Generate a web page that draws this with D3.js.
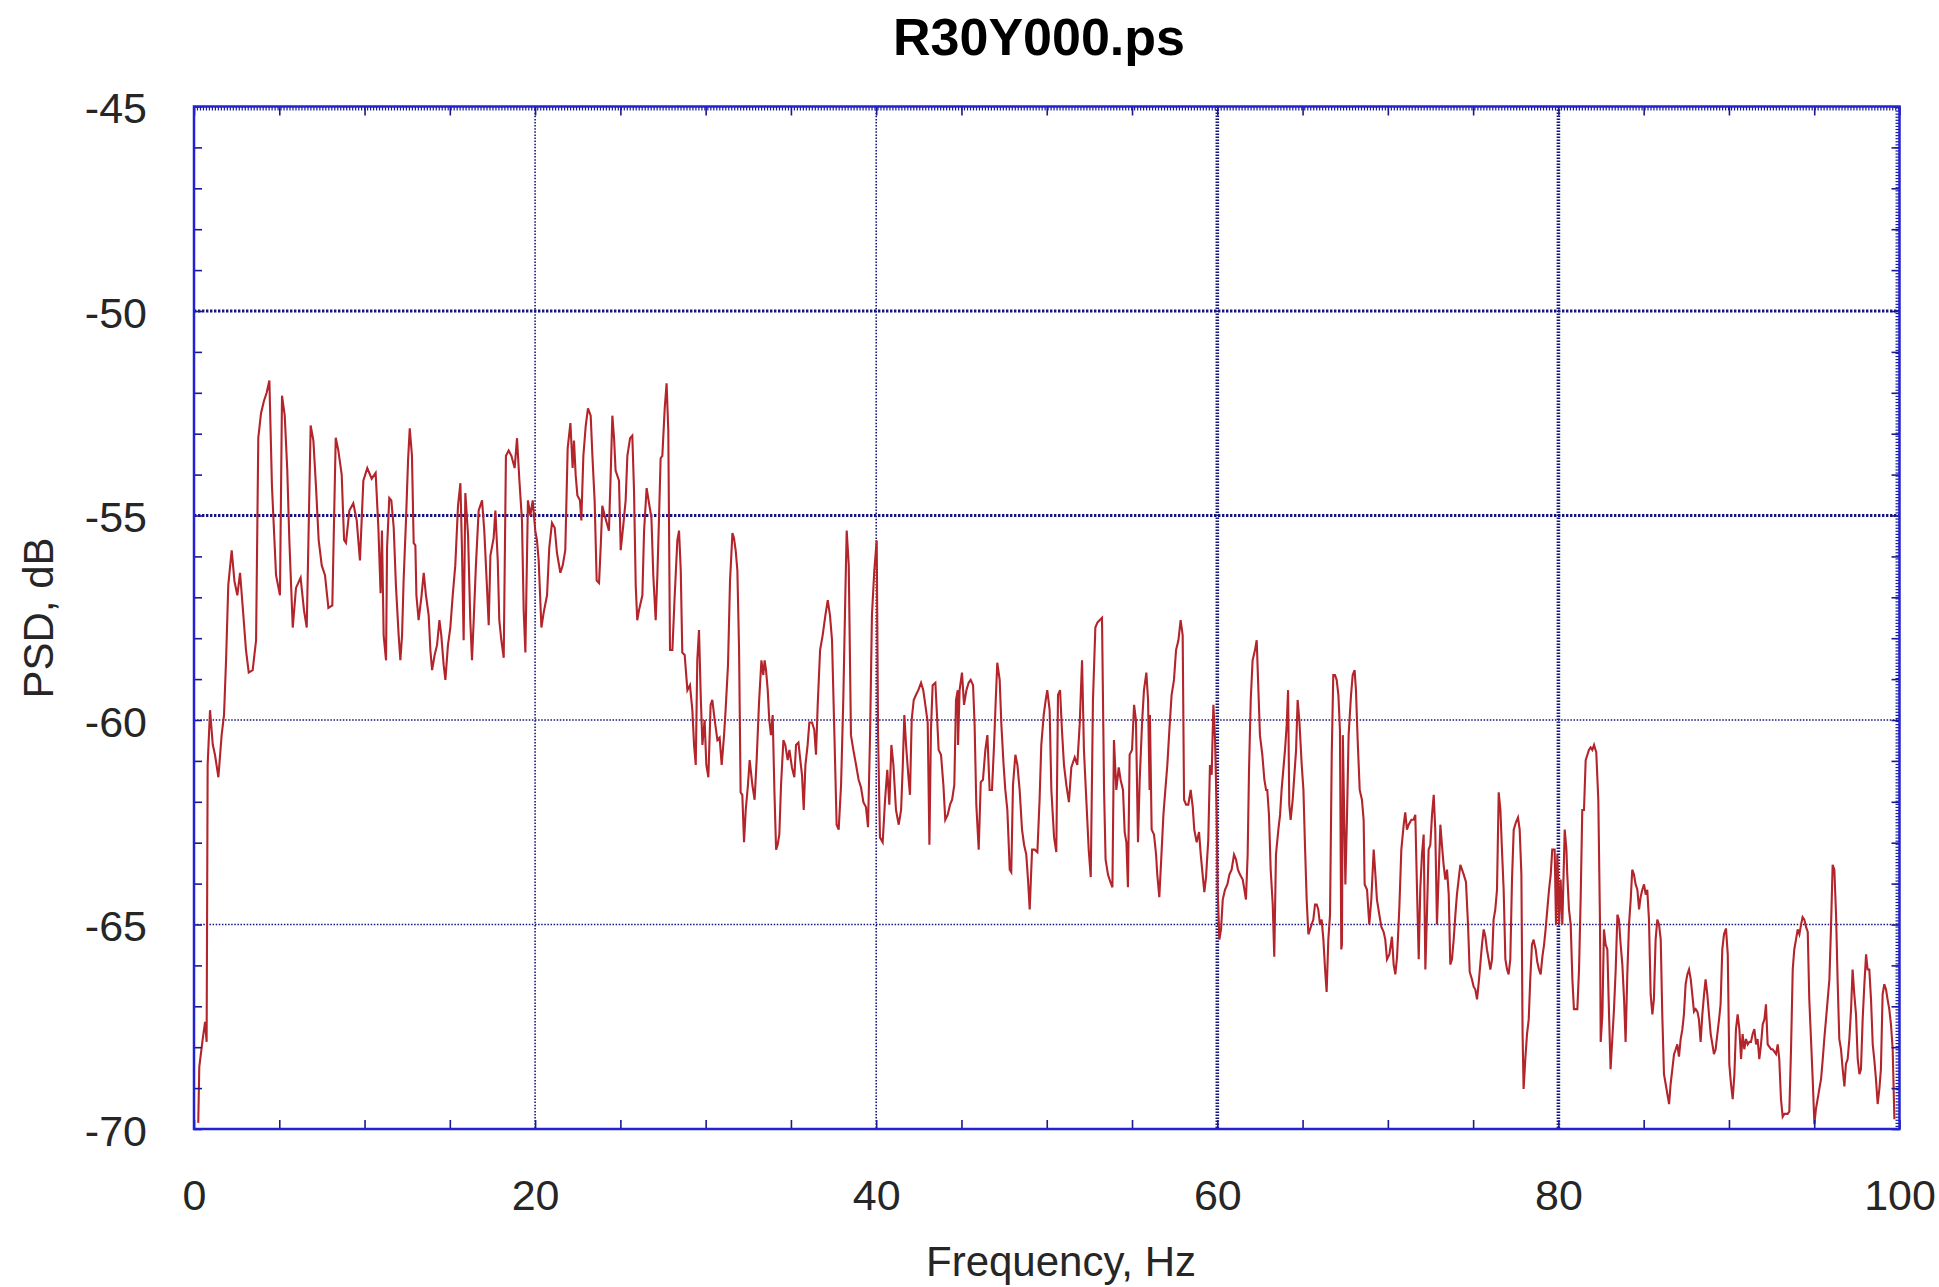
<!DOCTYPE html>
<html>
<head>
<meta charset="utf-8">
<script src="https://cdn.jsdelivr.net/npm/d3@7"></script>
<style>
  html, body { margin: 0; padding: 0; background: #ffffff; }
  svg { display: block; font-family: "Liberation Sans", Arial, Helvetica, sans-serif; }
</style>
</head>
<body>
<svg id="chart" width="1939" height="1287"></svg>
<script>
// ---- chart text ----
const chartTitle = "R30Y000.ps";
const xAxisTitle = "Frequency, Hz";
const yAxisTitle = "PSD, dB";

// ---- axis ticks ----
const xTickLabels = [0, 20, 40, 60, 80, 100];
const yTickLabels = [-70, -65, -60, -55, -50, -45];
const xGridLines = [20, 40, 60, 80];
const yGridLines = [-65, -60, -55, -50];

// ---- power spectral density: frequency (Hz) ----
const freqHz = [
  0.25,0.31,0.51,0.65,0.74,0.80,0.94,1.10,1.23,1.43,
  1.62,1.76,1.88,2.01,2.21,2.37,2.54,2.70,2.85,3.05,
  3.21,3.44,3.64,3.77,3.93,4.10,4.26,4.42,4.57,4.81,
  5.04,5.16,5.32,5.47,5.59,5.79,5.98,6.25,6.45,6.61,
  6.84,7.00,7.15,7.31,7.49,7.68,7.88,8.11,8.31,8.46,
  8.66,8.80,8.91,9.11,9.34,9.54,9.73,9.93,10.16,10.42,
  10.65,10.81,10.94,
  11.02,11.12,11.26,11.32,11.45,11.57,11.71,11.84,12.0,12.1,
  12.2,12.29,12.43,12.55,12.65,12.78,12.88,12.98,13.04,13.17,
  13.33,13.47,13.6,13.76,13.86,13.96,14.11,14.25,14.39,14.5,
  14.64,14.74,14.89,15.03,15.17,15.32,15.48,15.62,15.71,15.81,
  15.91,16.07,16.2,16.3,16.4,16.53,16.69,16.89,17.02,17.18,
  17.28,17.38,17.57,17.67,17.81,17.9,18.02,18.16,18.29,18.45,
  18.61,18.8,18.94,19.08,19.23,19.33,19.43,19.58,19.72,19.86,
  20.01,20.11,20.21,20.37,20.5,20.7,20.83,20.99,21.15,21.28,
  21.48,21.62,21.77,21.91,22.07,22.2,
  22.28,22.38,22.48,22.63,22.71,22.83,22.97,23.1,23.26,23.36,
  23.49,23.61,23.75,23.85,23.94,24.08,24.24,24.33,24.43,24.53,
  24.63,24.72,24.92,25.02,25.17,25.31,25.41,25.57,25.7,25.8,
  25.9,25.99,26.09,26.29,26.39,26.54,26.68,26.82,26.93,27.07,
  27.17,27.27,27.36,27.46,27.6,27.71,27.81,27.91,28.05,28.18,
  28.34,28.44,28.54,28.63,28.77,28.93,29.08,29.22,29.32,29.42,
  29.51,29.61,29.71,29.81,29.94,30.04,30.16,30.29,30.39,30.53,
  30.69,30.82,30.94,31.08,31.17,31.31,31.43,31.57,31.66,31.76,
  31.86,31.96,32.05,32.15,32.25,32.35,32.48,32.58,32.74,32.87,
  32.99,33.13,33.27,33.38,33.46,
  33.54,33.64,33.73,33.83,33.93,34.03,34.13,34.22,34.32,34.42,
  34.56,34.67,34.81,34.91,35.06,35.2,35.3,35.44,35.55,35.65,
  35.75,35.85,35.98,36.08,36.24,36.37,36.47,36.57,36.71,36.86,
  37.02,37.16,37.29,37.41,37.55,37.68,37.8,37.94,38.07,38.19,
  38.27,38.39,38.52,38.66,38.82,38.97,39.11,39.25,39.4,39.52,
  39.64,39.75,39.89,40.03,40.11,40.22,40.38,40.52,40.65,40.77,
  40.89,41.01,41.16,41.32,41.46,41.55,41.65,41.75,41.88,41.98,
  42.08,42.2,42.33,42.47,42.63,42.76,42.88,43.02,43.12,43.21,
  43.31,43.47,43.55,43.66,43.8,43.94,44.05,44.19,44.33,44.45,
  44.58,44.68,44.78,
  44.8,44.89,45.03,45.15,45.29,45.42,45.54,45.68,45.77,45.87,
  46.01,46.13,46.26,46.4,46.52,46.65,46.79,46.91,47.01,47.1,
  47.24,47.34,47.47,47.57,47.69,47.83,47.92,48.02,48.16,48.28,
  48.41,48.55,48.67,48.8,48.9,49.0,49.14,49.29,49.45,49.58,
  49.68,49.82,49.94,50.03,50.17,50.27,50.43,50.56,50.66,50.78,
  50.89,51.01,51.15,51.3,51.44,51.64,51.79,51.93,52.07,52.18,
  52.32,52.46,52.58,52.71,52.85,52.97,53.1,53.24,53.36,53.45,
  53.59,53.73,53.85,53.94,54.08,54.22,54.33,54.47,54.57,54.67,
  54.76,54.86,55.0,55.12,55.23,55.35,55.45,55.59,55.7,55.84,
  55.94,56.03,
  56.05,56.15,56.29,56.41,56.48,56.6,56.74,56.84,56.93,57.07,
  57.19,57.32,57.46,57.58,57.72,57.85,57.97,58.05,58.17,58.3,
  58.44,58.56,58.65,58.79,58.93,59.03,59.14,59.24,59.34,59.47,
  59.57,59.67,59.77,59.87,59.96,60.02,60.12,60.22,60.32,60.45,
  60.59,60.71,60.84,60.98,61.1,61.21,61.33,61.49,61.59,61.68,
  61.78,61.86,61.96,62.07,62.21,62.31,62.41,62.5,62.64,62.76,
  62.86,62.93,63.03,63.13,63.25,63.34,63.44,63.58,63.68,63.77,
  63.87,63.97,64.07,64.15,64.22,64.3,64.42,64.5,64.62,64.71,
  64.81,64.95,65.05,65.14,65.24,65.34,65.44,65.53,65.63,65.73,
  65.83,65.92,66.02,66.12,66.22,66.32,66.41,66.51,66.61,66.71,
  66.8,66.9,67.0,67.1,67.19,67.27,
  67.31,67.36,67.51,67.6,67.7,67.84,67.94,68.05,68.13,68.23,
  68.35,68.48,68.58,68.64,68.78,68.91,69.03,69.17,69.27,69.36,
  69.5,69.62,69.75,69.85,69.95,70.09,70.24,70.34,70.44,70.54,
  70.67,70.79,70.93,71.02,71.12,71.22,71.38,71.51,71.61,71.71,
  71.81,71.9,72.0,72.1,72.2,72.3,72.39,72.49,72.59,72.69,
  72.78,72.88,72.98,73.08,73.17,73.27,73.37,73.47,73.57,73.66,
  73.76,73.86,73.96,74.05,74.15,74.25,74.35,74.45,74.58,74.7,
  74.8,74.93,75.03,75.13,75.23,75.32,75.42,75.52,75.62,75.72,
  75.81,75.91,76.01,76.11,76.2,76.3,76.4,76.5,76.6,76.69,
  76.79,76.89,76.99,77.08,77.18,77.28,77.38,77.51,77.63,77.73,
  77.83,77.9,77.96,78.06,78.16,78.26,78.35,78.45,78.55,
  78.57,78.67,78.76,78.86,78.96,79.06,79.16,79.25,79.35,79.45,
  79.55,79.64,79.78,79.86,79.94,80.04,80.13,80.23,80.37,80.47,
  80.52,80.62,80.72,80.82,80.91,81.01,81.11,81.21,81.31,81.4,
  81.5,81.6,81.7,81.79,81.89,81.99,82.09,82.22,82.34,82.44,
  82.48,82.58,82.67,82.77,82.87,82.97,83.06,83.16,83.26,83.36,
  83.46,83.55,83.65,83.75,83.85,83.94,84.04,84.14,84.24,84.33,
  84.43,84.53,84.63,84.73,84.82,84.92,85.02,85.12,85.21,85.31,
  85.41,85.51,85.6,85.7,85.8,85.9,86.0,86.09,86.19,86.29,
  86.39,86.49,86.58,86.68,86.78,86.88,86.97,87.07,87.17,87.27,
  87.36,87.46,87.56,87.66,87.76,87.85,87.95,88.05,88.15,88.24,
  88.34,88.44,88.54,88.63,88.73,88.83,88.93,89.03,89.12,89.22,
  89.32,89.42,89.51,89.61,89.71,89.81,
  89.83,89.93,90.02,90.12,90.22,90.32,90.41,90.51,90.61,90.71,
  90.8,90.9,91.0,91.1,91.2,91.29,91.39,91.49,91.59,91.68,
  91.78,91.88,91.98,92.08,92.17,92.27,92.37,92.47,92.56,92.66,
  92.76,92.86,92.95,93.05,93.15,93.25,93.35,93.44,93.54,93.64,
  93.74,93.83,93.93,94.03,94.13,94.23,94.32,94.42,94.52,94.62,
  94.71,94.81,94.91,95.01,95.1,95.2,95.3,95.4,95.5,95.59,
  95.69,95.79,95.89,95.98,96.08,96.18,96.28,96.37,96.47,96.57,
  96.67,96.77,96.86,96.96,97.06,97.16,97.25,97.35,97.45,97.55,
  97.65,97.74,97.84,97.94,98.04,98.13,98.23,98.33,98.43,98.52,
  98.62,98.72,98.82,98.91,99.01,99.11,99.21,99.3,99.4,99.5,
  99.6,99.7
];

// ---- power spectral density: level (dB) ----
const psdDb = [
  -69.85,-68.48,-67.8,-67.38,-67.87,-61.1,-59.76,-60.6,-60.85,-61.4,
  -60.37,-59.88,-58.54,-56.7,-55.85,-56.6,-56.95,-56.4,-57.2,-58.3,
  -58.84,-58.78,-58.05,-53.1,-52.5,-52.2,-52.0,-51.7,-54.27,-56.46,
  -56.95,-52.07,-52.56,-53.9,-55.6,-57.74,-56.77,-56.52,-57.32,-57.74,
  -52.8,-53.17,-54.27,-55.6,-56.22,-56.46,-57.26,-57.2,-53.1,-53.4,
  -54.0,-55.6,-55.67,-54.88,-54.7,-55.12,-56.1,-54.15,-53.84,-54.1,
  -53.96,-55.3,-56.9,
  -55.37,-57.93,-58.54,-55.79,-54.57,-54.63,-55.3,-56.71,-57.93,-58.54,
  -57.93,-56.59,-55.12,-53.66,-52.87,-53.54,-55.67,-55.73,-56.95,-57.56,
  -57.01,-56.4,-56.95,-57.44,-58.29,-58.78,-58.41,-58.17,-57.56,-57.93,
  -58.66,-59.02,-58.17,-57.74,-56.95,-56.22,-54.76,-54.21,-55.79,-58.05,
  -54.45,-55.49,-57.56,-58.54,-57.56,-56.22,-54.88,-54.63,-55.37,-56.77,
  -57.68,-55.98,-55.55,-54.88,-56.1,-57.56,-58.05,-58.48,-53.54,-53.41,
  -53.54,-53.84,-53.11,-54.15,-55.12,-57.32,-58.35,-54.63,-55.0,-54.63,
  -55.37,-55.61,-56.1,-57.74,-57.38,-56.95,-55.79,-55.18,-55.3,-55.91,
  -56.4,-56.22,-55.85,-53.35,-52.74,-53.84,
  -53.17,-54.02,-54.51,-54.63,-55.12,-53.54,-52.8,-52.38,-52.56,-53.54,
  -54.63,-56.59,-56.65,-55.73,-54.76,-55.0,-55.24,-55.37,-54.02,-52.56,
  -53.11,-53.9,-54.15,-55.85,-55.24,-54.63,-53.54,-53.11,-53.05,-54.39,
  -56.71,-57.56,-57.32,-56.95,-55.37,-54.33,-54.7,-55.06,-56.46,-57.56,
  -56.46,-55.0,-53.6,-53.54,-52.38,-51.77,-52.93,-58.29,-58.29,-57.01,
  -55.61,-55.37,-56.34,-58.35,-58.41,-59.27,-59.15,-59.76,-60.61,-61.1,
  -58.54,-57.8,-59.39,-60.61,-60.0,-61.1,-61.4,-59.63,-59.51,-60.0,
  -60.49,-60.43,-61.1,-60.37,-59.76,-58.66,-56.59,-55.43,-55.55,-55.85,
  -56.34,-58.29,-61.77,-61.83,-62.99,-62.2,-61.59,-60.98,-61.59,-61.95,
  -60.98,-59.57,-58.54,-58.9,-58.54,
  -58.78,-59.27,-60.0,-60.37,-59.88,-61.71,-63.17,-63.05,-62.8,-61.59,
  -60.49,-60.61,-60.98,-60.73,-61.16,-61.4,-60.61,-60.55,-60.98,-61.34,
  -62.2,-61.1,-60.61,-60.06,-60.06,-60.24,-60.85,-59.63,-58.29,-57.93,
  -57.44,-57.07,-57.44,-58.05,-60.37,-62.56,-62.68,-61.59,-59.51,-56.95,
  -55.37,-56.22,-60.37,-60.73,-61.1,-61.46,-61.65,-62.01,-62.13,-62.62,
  -60.37,-57.44,-56.34,-55.61,-60.37,-62.87,-62.99,-61.95,-61.22,-62.07,
  -60.61,-61.1,-62.2,-62.56,-62.2,-61.22,-59.88,-60.61,-61.34,-61.83,
  -60.0,-59.51,-59.39,-59.27,-59.09,-59.27,-59.63,-60.06,-63.05,-60.24,
  -59.15,-59.09,-59.76,-60.73,-60.85,-61.59,-62.44,-62.32,-62.07,-61.95,
  -61.59,-59.51,-59.27,
  -60.61,-59.27,-58.84,-59.63,-59.27,-59.09,-59.02,-59.15,-60.12,-62.07,
  -63.17,-61.52,-61.46,-60.73,-60.37,-61.71,-61.71,-60.61,-59.51,-58.6,
  -59.02,-60.12,-61.1,-61.71,-62.2,-63.66,-63.72,-61.59,-60.85,-61.1,
  -61.71,-62.68,-63.05,-63.29,-63.9,-64.63,-63.17,-63.17,-63.23,-61.95,
  -60.61,-59.88,-59.51,-59.27,-59.76,-61.71,-62.87,-63.23,-59.39,-59.27,
  -60.24,-61.1,-61.59,-62.01,-61.16,-60.91,-61.1,-60.12,-58.54,-60.73,
  -61.95,-63.17,-63.84,-59.51,-57.74,-57.62,-57.56,-57.5,-61.71,-63.41,
  -63.78,-63.96,-64.09,-60.49,-61.71,-61.16,-61.46,-61.71,-62.74,-62.99,
  -64.09,-60.85,-60.73,-59.63,-60.0,-62.99,-61.46,-60.06,-59.27,-58.84,
  -59.51,-61.71,
  -59.88,-62.68,-62.8,-63.29,-63.78,-64.33,-63.17,-62.32,-61.83,-61.1,
  -60.24,-59.39,-59.02,-58.29,-58.05,-57.56,-57.93,-61.95,-62.07,-62.07,
  -61.71,-62.13,-62.68,-62.99,-62.74,-63.29,-63.78,-64.21,-63.84,-62.93,
  -61.1,-61.34,-59.63,-60.49,-62.2,-64.15,-65.37,-65.12,-64.39,-64.15,
  -64.02,-63.78,-63.66,-63.29,-63.41,-63.66,-63.78,-63.9,-64.15,-64.39,
  -63.29,-61.22,-59.51,-58.54,-58.29,-58.05,-59.27,-60.37,-60.85,-61.46,
  -61.71,-61.71,-62.32,-63.66,-64.51,-65.79,-63.29,-62.68,-62.32,-61.71,
  -61.22,-60.73,-60.12,-59.27,-62.07,-62.44,-61.95,-61.46,-60.73,-59.51,
  -60.0,-61.1,-61.71,-63.05,-64.39,-65.24,-65.12,-65.0,-64.88,-64.51,
  -64.51,-64.63,-65.0,-64.88,-65.37,-66.1,-66.65,-65.37,-64.76,-60.85,
  -58.9,-58.9,-59.02,-59.39,-60.24,-65.61,
  -65.49,-60.37,-64.02,-62.44,-60.37,-59.39,-58.9,-58.78,-59.27,-60.49,
  -61.71,-61.95,-62.44,-64.02,-64.15,-65.0,-64.39,-63.17,-63.78,-64.39,
  -64.76,-65.06,-65.18,-65.37,-65.85,-65.73,-65.3,-65.98,-66.22,-65.79,
  -64.63,-63.17,-62.56,-62.26,-62.68,-62.56,-62.44,-62.44,-62.32,-64.15,
  -65.85,-64.15,-63.29,-62.8,-66.1,-64.63,-63.17,-63.05,-62.32,-61.83,
  -62.68,-65.0,-63.78,-62.56,-63.05,-63.54,-63.9,-63.66,-64.27,-65.98,
  -65.85,-65.37,-64.76,-64.27,-63.9,-63.54,-63.66,-63.78,-63.96,-65.0,
  -66.16,-66.34,-66.52,-66.59,-66.83,-66.46,-65.98,-65.49,-65.12,-65.3,
  -65.61,-65.85,-66.1,-65.85,-64.88,-64.63,-64.15,-61.77,-62.2,-63.17,
  -64.15,-65.85,-66.1,-66.22,-65.85,-63.9,-62.68,-62.5,-62.38,-62.68,
  -63.78,-67.68,-69.02,-68.29,-67.68,-67.32,-66.34,-65.49,-65.37,
  -65.43,-65.61,-65.91,-66.1,-66.22,-65.79,-65.49,-65.12,-64.63,-64.15,
  -63.78,-63.17,-63.17,-65.0,-63.29,-65.0,-63.9,-65.0,-62.68,-63.17,
  -63.78,-64.63,-65.0,-66.34,-67.07,-67.07,-67.07,-66.1,-64.27,-62.2,
  -62.2,-60.98,-60.85,-60.73,-60.67,-60.73,-60.61,-60.79,-61.95,-65.0,
  -67.87,-67.2,-65.12,-65.49,-65.61,-67.2,-68.54,-67.8,-67.07,-66.1,
  -64.76,-64.88,-65.49,-65.98,-66.83,-67.87,-66.22,-65.0,-64.39,-63.66,
  -63.78,-64.02,-64.15,-64.63,-64.33,-64.15,-64.02,-64.27,-64.15,-64.88,
  -66.71,-67.2,-66.83,-65.37,-64.88,-65.0,-65.37,-67.2,-68.66,-68.9,
  -69.15,-69.39,-68.9,-68.54,-68.17,-68.05,-67.93,-68.23,-67.8,-67.56,
  -67.2,-66.46,-66.22,-66.1,-66.34,-66.71,-67.13,-67.07,-67.13,-67.32,
  -67.87,-67.2,-66.71,-66.34,-66.71,-67.2,-67.68,-67.93,-68.17,-68.05,
  -67.68,-67.32,-66.95,-65.61,-65.24,-65.12,
  -65.12,-65.73,-68.41,-68.9,-69.27,-68.66,-67.56,-67.2,-67.56,-68.29,
  -67.68,-68.05,-67.8,-67.93,-67.87,-67.87,-67.68,-67.56,-67.93,-67.8,
  -68.29,-67.93,-67.44,-67.32,-66.95,-67.93,-67.99,-68.05,-68.05,-68.11,
  -68.17,-67.93,-68.29,-69.27,-69.7,-69.63,-69.63,-69.63,-69.57,-68.05,
  -66.1,-65.61,-65.37,-65.12,-65.24,-65.0,-64.82,-64.88,-65.06,-65.18,
  -66.83,-67.8,-68.78,-69.88,-69.51,-69.27,-69.02,-68.78,-68.29,-67.8,
  -67.32,-66.83,-66.34,-65.12,-63.54,-63.66,-64.76,-66.34,-67.8,-68.05,
  -68.54,-68.96,-68.41,-68.29,-67.8,-67.07,-66.1,-66.71,-67.2,-68.29,
  -68.66,-68.54,-67.32,-66.46,-65.73,-66.1,-66.1,-66.83,-67.93,-68.29,
  -68.78,-69.39,-69.02,-68.54,-66.71,-66.46,-66.59,-66.83,-67.07,-67.44,
  -68.05,-69.76
];

// ---- layout ----
const width = 1939, height = 1287;
const plot = { left: 194, right: 1899.5, top: 106.5, bottom: 1129 };

const frameColor = "#2222d4";
const gridColor = "#14147e";
const tickColor = "#1a1a90";
const lineColor = "#b3242b";
const textColor = "#262626";

const svg = d3.select("#chart");

const x = d3.scaleLinear().domain([0, 100]).range([plot.left, plot.right]);
const y = d3.scaleLinear().domain([-70, -45]).range([plot.bottom, plot.top]);

svg.append("rect")
  .attr("width", width).attr("height", height)
  .attr("fill", "#ffffff");

// ---- dotted grid ----
const grid = svg.append("g").attr("class", "grid");
const heavyX = d => d >= 60;
const heavyY = d => d >= -55;

grid.selectAll("line.gx").data(xGridLines).join("line")
  .attr("class", "gx")
  .attr("x1", d => x(d)).attr("x2", d => x(d))
  .attr("y1", plot.top).attr("y2", plot.bottom)
  .attr("stroke", gridColor)
  .attr("stroke-width", d => heavyX(d) ? 3.6 : 1.6)
  .attr("stroke-dasharray", d => heavyX(d) ? "1.5,1.5" : "1.5,1.6");

grid.selectAll("line.gy").data(yGridLines).join("line")
  .attr("class", "gy")
  .attr("x1", plot.left).attr("x2", plot.right)
  .attr("y1", d => y(d)).attr("y2", d => y(d))
  .attr("stroke", gridColor)
  .attr("stroke-width", d => heavyY(d) ? 3 : 1.6)
  .attr("stroke-dasharray", d => heavyY(d) ? "2.4,1.6" : "1.5,1.6");

// ---- spectrum trace ----
svg.append("clipPath").attr("id", "plot-clip")
  .append("rect")
  .attr("x", plot.left).attr("y", plot.top)
  .attr("width", plot.right - plot.left).attr("height", plot.bottom - plot.top);

const n = Math.min(freqHz.length, psdDb.length);
const points = d3.range(n).map(i => [freqHz[i], psdDb[i]]);

const line = d3.line()
  .x(d => x(d[0]))
  .y(d => y(d[1]));

svg.append("path")
  .datum(points)
  .attr("clip-path", "url(#plot-clip)")
  .attr("fill", "none")
  .attr("stroke", lineColor)
  .attr("stroke-width", 2.1)
  .attr("stroke-linejoin", "miter")
  .attr("d", line);

// ---- axes ----
function styleAxis(g) {
  g.select(".domain").remove();
  g.selectAll(".tick line").attr("stroke", tickColor).attr("stroke-width", 1.6);
  g.selectAll(".tick text")
    .attr("fill", textColor)
    .style("font-size", "43px")
    .style("font-family", "'Liberation Sans', Arial, Helvetica, sans-serif");
}

// bottom: labels every 20 Hz, inward ticks every 5 Hz
svg.append("g")
  .attr("transform", `translate(0,${plot.bottom})`)
  .call(d3.axisBottom(x)
    .tickValues(d3.range(0, 101, 5))
    .tickSizeInner(-9).tickSizeOuter(0)
    .tickPadding(50)
    .tickFormat(d => xTickLabels.includes(d) ? String(d) : ""))
  .call(styleAxis);

// left: labels every 5 dB, inward ticks every 1 dB
svg.append("g")
  .attr("transform", `translate(${plot.left},0)`)
  .call(d3.axisLeft(y)
    .tickValues(d3.range(-70, -44, 1))
    .tickSizeInner(-8).tickSizeOuter(0)
    .tickPadding(47)
    .tickFormat(d => yTickLabels.includes(d) ? String(d) : ""))
  .call(styleAxis)
  .call(g => g.selectAll(".tick text").attr("dy", "0.38em"));

// top: mirrored ticks plus a fine comb
svg.append("g")
  .attr("transform", `translate(0,${plot.top})`)
  .call(d3.axisTop(x)
    .tickValues(d3.range(0, 101, 5))
    .tickSizeInner(-9).tickSizeOuter(0)
    .tickFormat(""))
  .call(styleAxis);

svg.append("g")
  .attr("transform", `translate(0,${plot.top})`)
  .call(d3.axisTop(x)
    .tickValues(d3.range(0, 100.01, 0.175))
    .tickSizeInner(-4).tickSizeOuter(0)
    .tickFormat(""))
  .call(styleAxis)
  .call(g => g.selectAll(".tick line").attr("stroke-width", 1.2));

// right: mirrored ticks plus a fine comb
svg.append("g")
  .attr("transform", `translate(${plot.right},0)`)
  .call(d3.axisRight(y)
    .tickValues(d3.range(-70, -44, 1))
    .tickSizeInner(-8).tickSizeOuter(0)
    .tickFormat(""))
  .call(styleAxis);

svg.append("g")
  .attr("transform", `translate(${plot.right},0)`)
  .call(d3.axisRight(y)
    .tickValues(d3.range(-70, -44.99, 0.075))
    .tickSizeInner(-4).tickSizeOuter(0)
    .tickFormat(""))
  .call(styleAxis)
  .call(g => g.selectAll(".tick line").attr("stroke-width", 1.2));

// ---- plot frame ----
svg.append("rect")
  .attr("x", plot.left).attr("y", plot.top)
  .attr("width", plot.right - plot.left)
  .attr("height", plot.bottom - plot.top)
  .attr("fill", "none")
  .attr("stroke", frameColor)
  .attr("stroke-width", 2.5);

// ---- titles ----
svg.append("text")
  .attr("x", 1039).attr("y", 55)
  .attr("text-anchor", "middle")
  .attr("fill", "#000000")
  .style("font-size", "52px")
  .style("font-weight", "bold")
  .text(chartTitle);

svg.append("text")
  .attr("x", 1061).attr("y", 1276)
  .attr("text-anchor", "middle")
  .attr("fill", textColor)
  .style("font-size", "42px")
  .text(xAxisTitle);

svg.append("text")
  .attr("transform", "translate(53,618) rotate(-90)")
  .attr("text-anchor", "middle")
  .attr("fill", textColor)
  .style("font-size", "42px")
  .text(yAxisTitle);
</script>
</body>
</html>
